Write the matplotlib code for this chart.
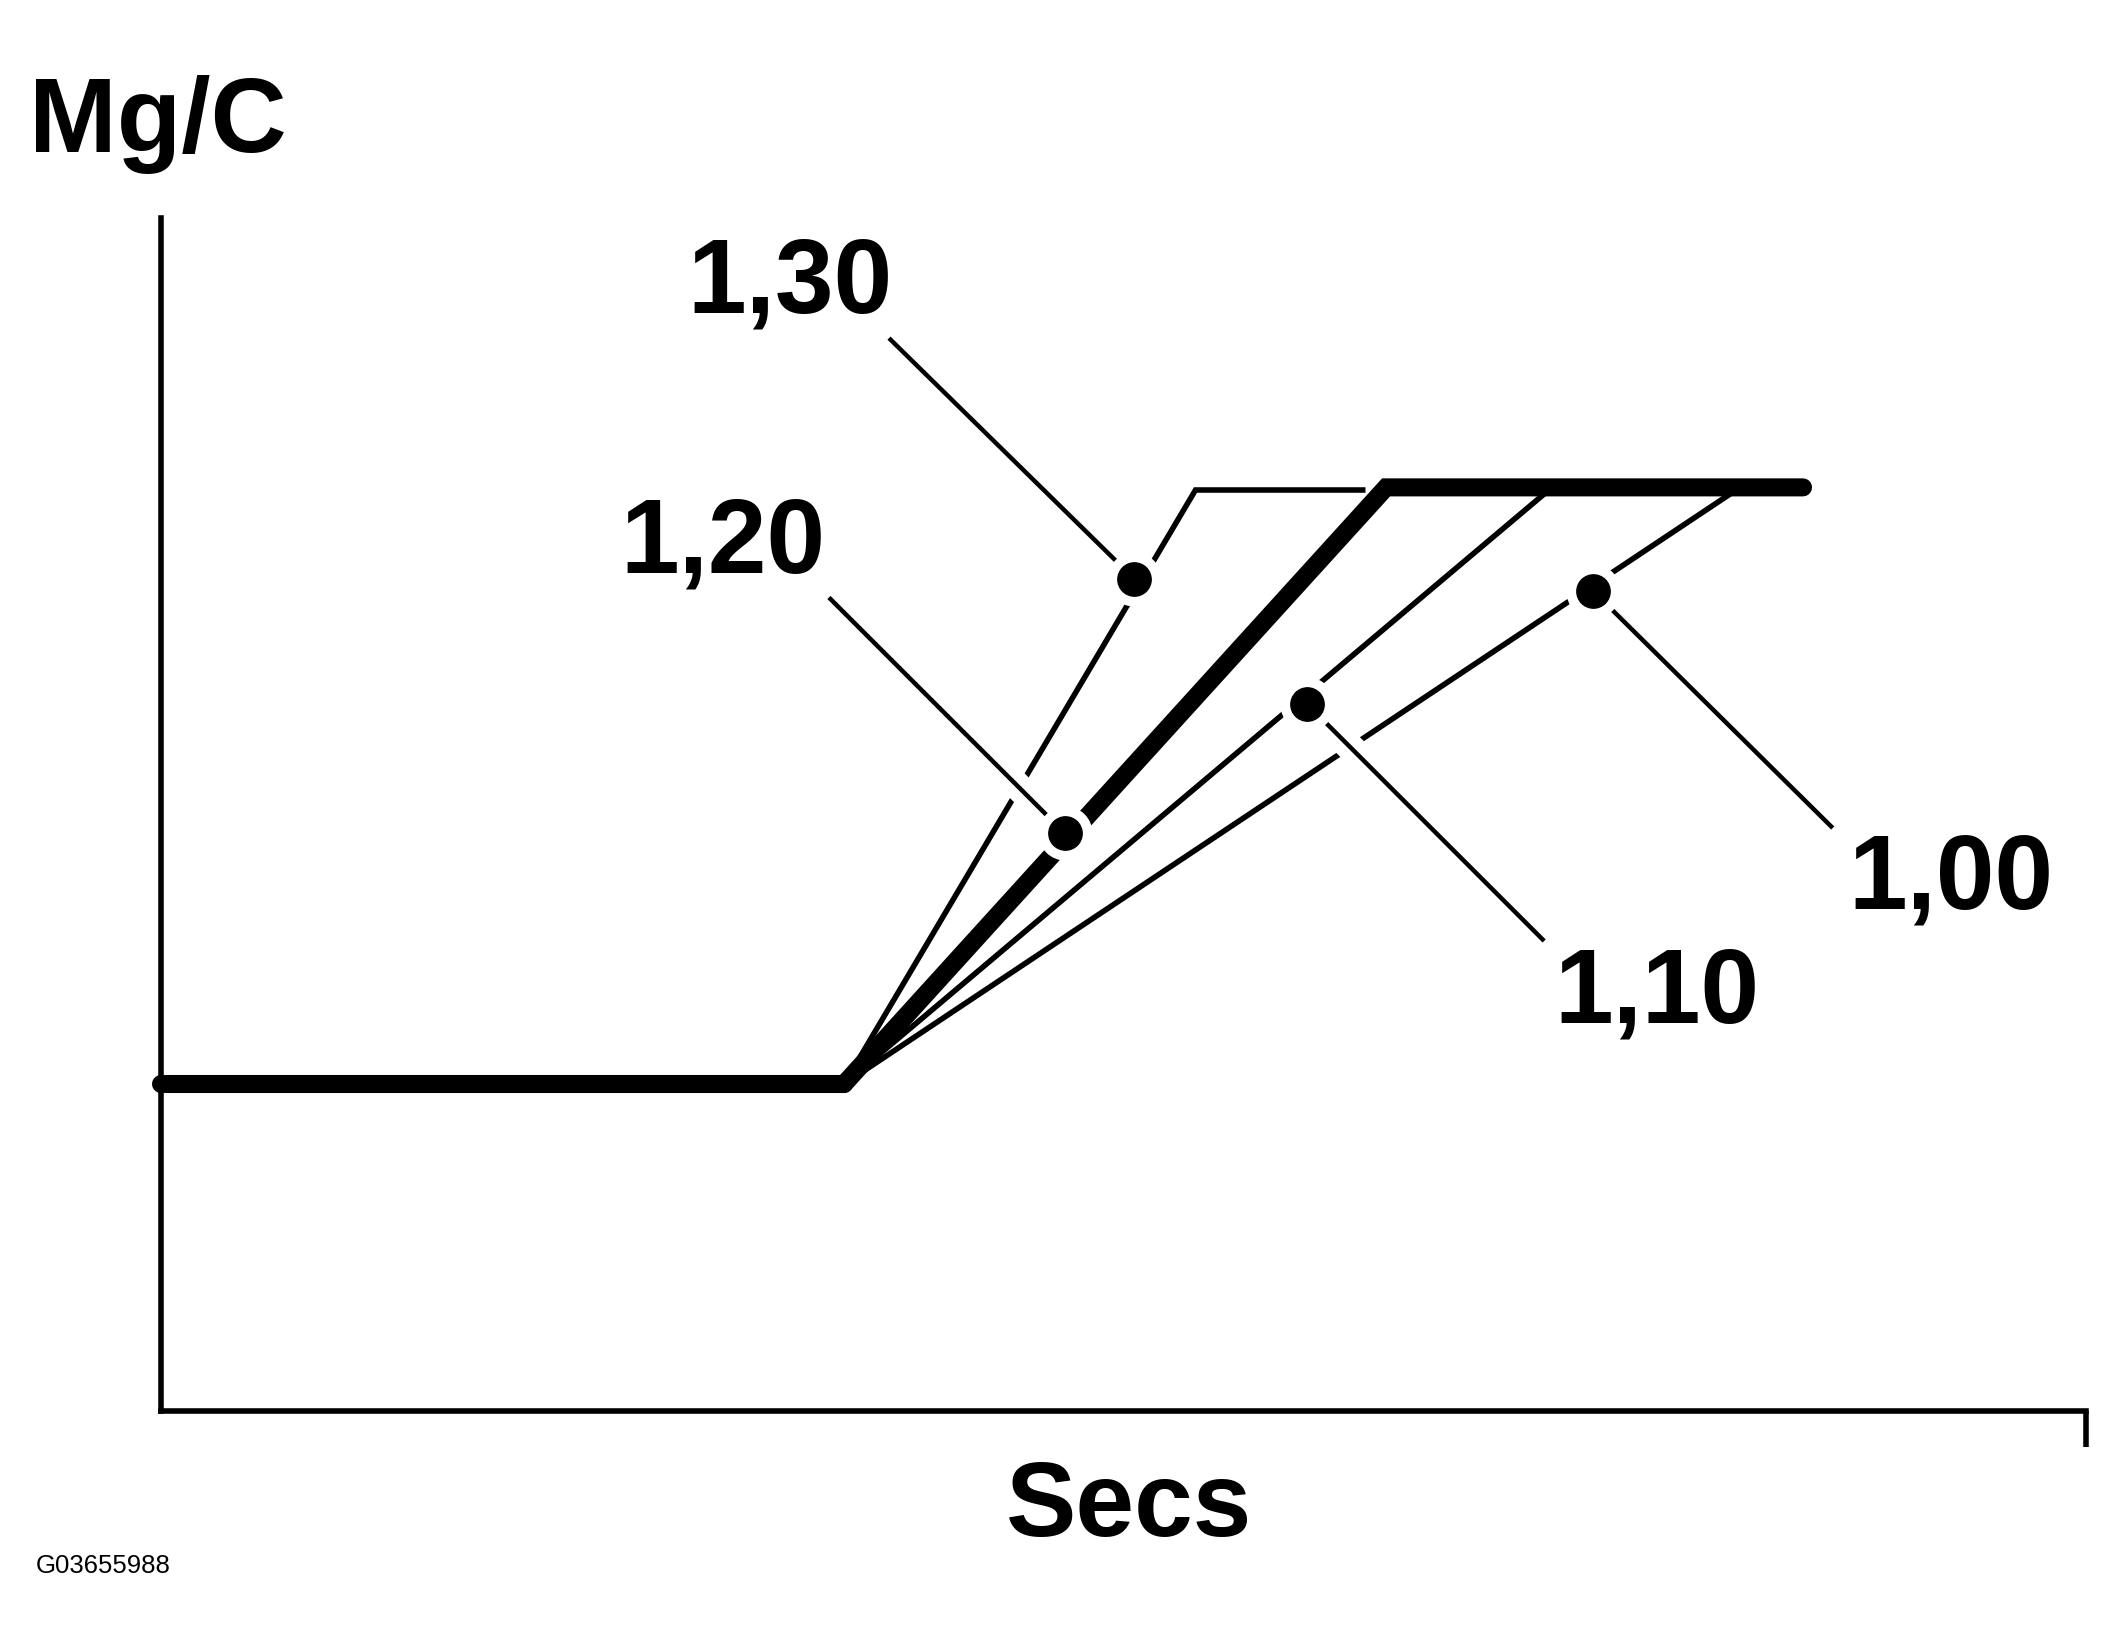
import matplotlib
matplotlib.use("Agg")
import matplotlib.pyplot as plt
import matplotlib.patheffects as pe

# ramp curves (Secs, Mg/C) - arbitrary units
base_x = [0.0, 3.548]
base_y = [2.74, 2.74]

curve_x = {
    "1,30": [3.548, 5.374, 6.257],
    "1,20": [3.548, 6.364, 8.53],
    "1,10": [3.548, 7.226],
    "1,00": [3.548, 8.203],
}
curve_y = {
    "1,30": [2.74, 7.72, 7.72],
    "1,20": [2.74, 7.742, 7.742],
    "1,10": [2.74, 7.742],
    "1,00": [2.74, 7.742],
}

labels = ["1,30", "1,20", "1,10", "1,00"]
dot_x = [5.055, 4.695, 5.953, 7.439]
dot_y = [6.977, 4.843, 5.927, 6.874]
lead_x = [3.79, 3.478, 7.177, 8.676]
lead_y = [8.98, 6.806, 3.953, 4.90]
text_x = [3.27, 2.92, 7.77, 9.30]
text_y = [9.21, 7.03, 3.26, 4.21]

plt.rcParams['font.family'] = ['Liberation Sans', 'DejaVu Sans']

fig = plt.figure(figsize=(21.24, 16.5), dpi=100)
ax = fig.add_axes([161 / 2124, 1 - 1411 / 1650, (2086 - 161) / 2124, (1411 - 218) / 1650])
ax.set_xlim(0, 10)
ax.set_ylim(0, 10)

for s in ["top", "right"]:
    ax.spines[s].set_visible(False)
for s in ["left", "bottom"]:
    ax.spines[s].set_linewidth(4)
ax.set_yticks([])
ax.set_xticks([10])
ax.set_xticklabels([""])
ax.tick_params(axis="x", direction="out", length=26, width=4)

# curves
ax.plot(base_x, base_y, color="black", lw=13, solid_capstyle="round", zorder=2, clip_on=False)
for name in labels:
    thick = name == "1,20"
    ax.plot(curve_x[name], curve_y[name], color="black", lw=13 if thick else 4,
            solid_capstyle="round" if thick else "butt", solid_joinstyle="miter", zorder=2, clip_on=False)

# leader lines with white halo, dots, labels
halo = [pe.Stroke(linewidth=20, foreground="white"), pe.Normal()]
for i, name in enumerate(labels):
    ax.plot([lead_x[i], dot_x[i]], [lead_y[i], dot_y[i]], color="black", lw=3.2,
            path_effects=halo, zorder=3, clip_on=False)
    ax.plot(dot_x[i], dot_y[i], "o", ms=38, color="white", zorder=3.5, clip_on=False)
    ax.plot(dot_x[i], dot_y[i], "o", ms=24, color="black", zorder=4, clip_on=False)
    ax.text(text_x[i], text_y[i], name, fontsize=76, fontweight="bold",
            ha="center", va="baseline", zorder=5)

fig.text(0.0137, 0.908, "Mg/C", fontsize=76, fontweight="bold", ha="left", va="baseline")
fig.text(0.5314, 0.0692, "Secs", fontsize=76, fontweight="bold", ha="center", va="baseline")
fig.text(0.0167, 0.0467, "G03655988", fontsize=18.5, ha="left", va="baseline")

fig.savefig("out.png", dpi=100)
